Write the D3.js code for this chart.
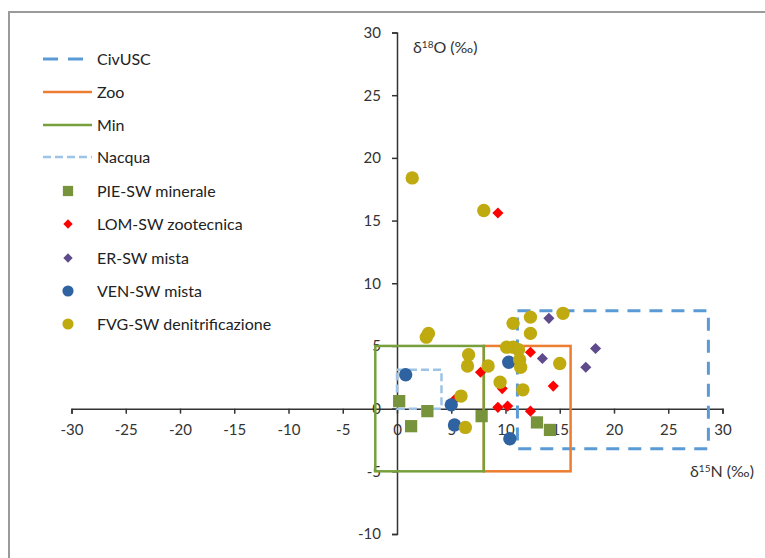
<!DOCTYPE html>
<html><head><meta charset="utf-8">
<script src="https://cdn.jsdelivr.net/npm/d3@7/dist/d3.min.js"></script>
<style>
body{margin:0;background:#fff;}
text{font-family:Lato,"Open Sans",sans-serif;}
</style></head>
<body><svg id="chart" width="765" height="558"></svg>
<script>
// ---- data ----
const xTicks=[-30,-25,-20,-15,-10,-5,0,5,10,15,20,25,30];
const yTicks=[-10,-5,0,5,10,15,20,25,30];

const boxNames=["CivUSC","Zoo","Min","Nacqua"];
const boxN0=[11.1,8,-2,0];
const boxN1=[28.7,16,8,4.1];
const boxO0=[-3.2,-5,-5,0];
const boxO1=[7.8,5,5,3.1];

const pieN=[0.2,1.3,2.8,7.8,12.9,14.1];
const pieO=[0.6,-1.4,-0.2,-0.6,-1.1,-1.7];
const lomN=[9.3,7.7,5.3,12.3,9.7,14.4,9.3,10.2,12.3];
const lomO=[15.6,2.9,0.7,4.5,1.6,1.8,0.1,0.2,-0.2];
const erN=[14.0,13.4,18.3,17.4];
const erO=[7.2,4.0,4.8,3.3];
const venN=[0.8,5.0,5.3,10.3,10.4];
const venO=[2.7,0.3,-1.3,3.7,-2.4];
const fvgN=[1.4,8.0,2.7,2.9,6.6,6.5,8.4,5.9,6.3,10.7,12.3,15.3,12.3,10.1,10.7,11.2,11.3,11.4,15.0,9.5,11.6];
const fvgO=[18.4,15.8,5.7,6.0,4.3,3.4,3.4,1.0,-1.5,6.8,7.3,7.6,6.0,4.9,4.9,4.7,3.9,3.3,3.6,2.1,1.5];

const seriesNames=["PIE-SW minerale","LOM-SW zootecnica","ER-SW mista","VEN-SW mista","FVG-SW denitrificazione"];

// ---- styles ----
const boxStyle=[
  {color:"#5B9BD5",width:3,dash:"13,9"},
  {color:"#ED7D31",width:2.5,dash:null},
  {color:"#77A03C",width:2.5,dash:null},
  {color:"#9DC3E6",width:2.5,dash:"8,4"}
];
const ptStyle=[
  {color:"#77933C",shape:d3.symbolSquare,size:150,rot:0},
  {color:"#FF0000",shape:d3.symbolSquare,size:62,rot:45},
  {color:"#5F4B8B",shape:d3.symbolSquare,size:62,rot:45},
  {color:"#2E62A0",shape:d3.symbolCircle,size:140,rot:0},
  {color:"#BFAA0F",shape:d3.symbolCircle,size:140,rot:0}
];

const svg=d3.select("#chart");
const x=d3.scaleLinear().domain([-30,30]).range([71.5,722.5]);
const y=d3.scaleLinear().domain([-10,30]).range([534,32.5]);

// border
svg.append("path").attr("d","M9,570 L9,12 L780,12").attr("fill","none").attr("stroke","#9a9a9a").attr("stroke-width",2);

// axes
const ax=svg.append("g").attr("transform",`translate(0,${y(0)})`)
  .call(d3.axisBottom(x).tickValues(xTicks).tickSize(5).tickSizeOuter(5).tickPadding(11).tickFormat(d3.format("d")));
const ay=svg.append("g").attr("transform",`translate(${x(0)},0)`)
  .call(d3.axisLeft(y).tickValues(yTicks).tickSize(5).tickSizeOuter(5).tickPadding(11).tickFormat(d3.format("d")));
[ax,ay].forEach(g=>{
  g.selectAll("path,line").attr("stroke","#333").attr("stroke-width",1.5);
  g.selectAll("text").attr("fill","#333").style("font-size","15px").style("font-family","Lato, 'Open Sans', sans-serif");
});
ax.selectAll("text").text(d=>d<0?"-"+Math.abs(d):d);
ay.selectAll("text").text(d=>d<0?"-"+Math.abs(d):d);

// axis titles
const t1=svg.append("text").attr("x",413).attr("y",53).attr("fill","#333").style("font-size","16px");
t1.append("tspan").text("δ");
t1.append("tspan").text("18").attr("dy",-5).style("font-size","10px");
t1.append("tspan").text("O (‰)").attr("dy",5);
const t2=svg.append("text").attr("x",690).attr("y",477).attr("fill","#333").style("font-size","16px");
t2.append("tspan").text("δ");
t2.append("tspan").text("15").attr("dy",-5).style("font-size","10px");
t2.append("tspan").text("N (‰)").attr("dy",5);

// boxes
boxNames.forEach((n,i)=>{
  const s=boxStyle[i];
  svg.append("rect").attr("x",x(boxN0[i])).attr("y",y(boxO1[i]))
    .attr("width",x(boxN1[i])-x(boxN0[i])).attr("height",y(boxO0[i])-y(boxO1[i]))
    .attr("fill","none").attr("stroke",s.color).attr("stroke-width",s.width)
    .attr("stroke-dasharray",s.dash);
});

// points
const ptN=[pieN,lomN,erN,venN,fvgN];
const ptO=[pieO,lomO,erO,venO,fvgO];
ptN.forEach((arr,i)=>{
  const s=ptStyle[i];
  const sym=d3.symbol().type(s.shape).size(s.size);
  svg.append("g").selectAll("path").data(arr.map((v,j)=>[v,ptO[i][j]])).join("path")
    .attr("d",sym).attr("fill",s.color)
    .attr("transform",d=>`translate(${x(d[0])},${y(d[1])}) rotate(${s.rot})`);
});

// legend
const legY=[59,92,125,157,191,224,258,291,324];
const lg=svg.append("g");
boxNames.forEach((n,i)=>{
  const s=boxStyle[i];
  lg.append("line").attr("x1",43).attr("x2",92).attr("y1",legY[i]).attr("y2",legY[i])
    .attr("stroke",s.color).attr("stroke-width",s.width)
    .attr("stroke-dasharray",i===0?"15,10":s.dash);
  lg.append("text").attr("x",97).attr("y",legY[i]).attr("dy","0.35em").attr("fill","#222").style("font-size","16px").text(n);
});
seriesNames.forEach((n,i)=>{
  const s=ptStyle[i];
  const yy=legY[i+4];
  lg.append("path").attr("d",d3.symbol().type(s.shape).size(s.size*0.7)).attr("fill",s.color)
    .attr("transform",`translate(68,${yy}) rotate(${s.rot})`);
  lg.append("text").attr("x",97).attr("y",yy).attr("dy","0.35em").attr("fill","#222").style("font-size","16px").text(n);
});
</script></body></html>
